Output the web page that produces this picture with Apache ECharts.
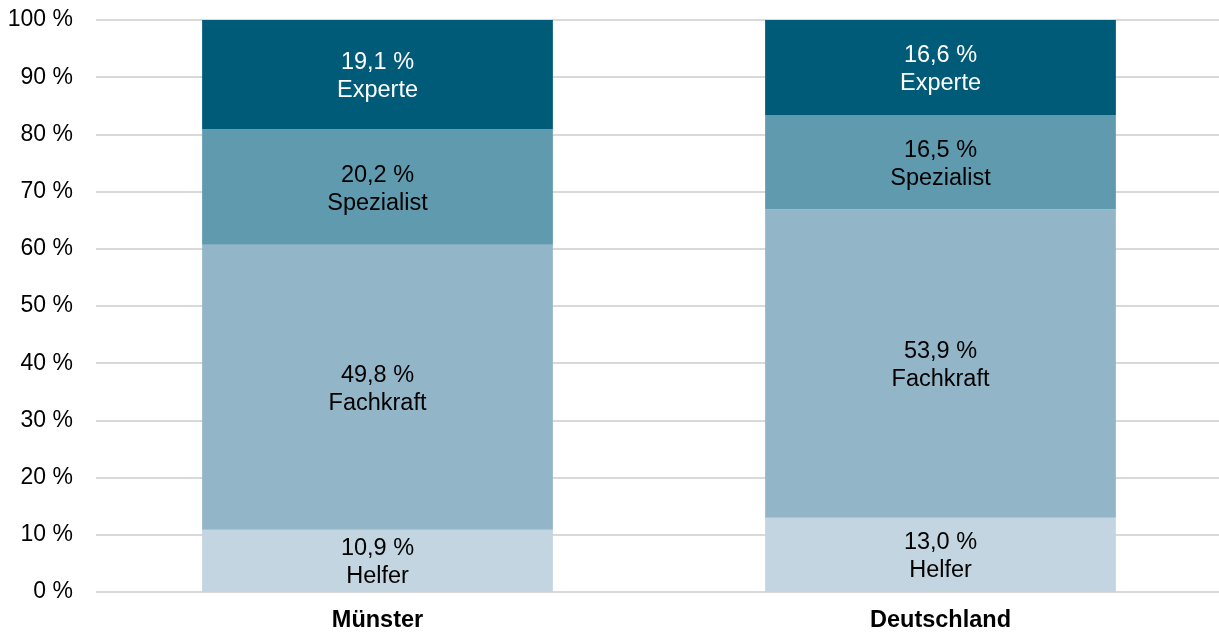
<!DOCTYPE html>
<html>
<head>
<meta charset="utf-8">
<script src="https://cdn.jsdelivr.net/npm/echarts@6/dist/echarts.min.js"></script>
<style>
  html, body { margin: 0; padding: 0; background: #fff; }
  #chart { width: 1219px; height: 633px; }
</style>
</head>
<body>
<div id="chart"></div>
<script>
const categories = ['Münster', 'Deutschland'];
const seriesNames = ['Helfer', 'Fachkraft', 'Spezialist', 'Experte'];
const helfer = [10.9, 13.0];
const fachkraft = [49.8, 53.9];
const spezialist = [20.2, 16.5];
const experte = [19.1, 16.6];
const yTicks = [0, 10, 20, 30, 40, 50, 60, 70, 80, 90, 100];

const colors = ['#c2d5e1', '#92b6c8', '#5f9aae', '#005b78'];
const labelColors = ['#000', '#000', '#000', '#fff'];
const values = [helfer, fachkraft, spezialist, experte];

const fmt = v => v.toFixed(1).replace('.', ',') + ' %';

const chart = echarts.init(document.getElementById('chart'));
chart.setOption({
  animation: false,
  grid: { left: 96, width: 1126, top: 20, bottom: 41, outerBoundsMode: 'none', containLabel: false },
  xAxis: {
    type: 'category',
    data: categories,
    axisLine: { show: false },
    axisTick: { show: false },
    axisLabel: {
      fontFamily: 'Liberation Sans, Arial, sans-serif',
      fontSize: 23.5,
      fontWeight: 'bold',
      color: '#000',
      margin: 17
    }
  },
  yAxis: {
    type: 'value',
    min: 0,
    max: 100,
    interval: 10,
    axisLine: { show: false },
    axisTick: { show: false },
    splitLine: { lineStyle: { color: '#d9d9d9', width: 2 } },
    axisLabel: {
      fontFamily: 'Liberation Sans, Arial, sans-serif',
      fontSize: 23,
      color: '#000',
      margin: 23,
      formatter: v => yTicks.includes(v) ? v + ' %' : ''
    }
  },
  series: seriesNames.map((name, i) => ({
    name: name,
    type: 'bar',
    stack: 'total',
    barWidth: '62.3%',
    data: values[i],
    itemStyle: { color: colors[i] },
    label: {
      show: true,
      position: 'inside',
      offset: [0, 2],
      fontFamily: 'Liberation Sans, Arial, sans-serif',
      fontSize: 23.5,
      lineHeight: 28,
      color: labelColors[i],
      formatter: p => fmt(p.value) + '\n' + name
    }
  }))
});
</script>
</body>
</html>
